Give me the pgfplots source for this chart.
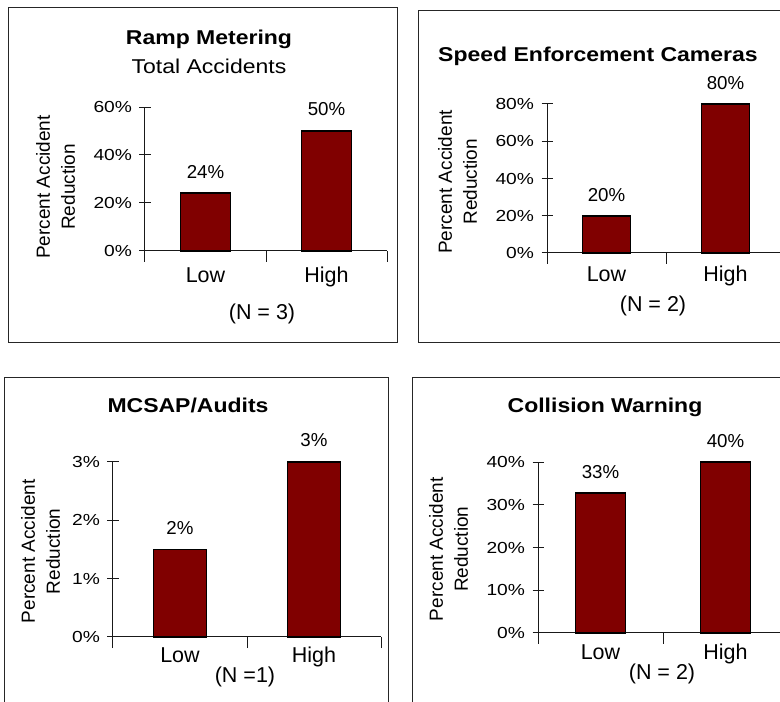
\documentclass[border=0pt]{standalone}
\usepackage{pgfplots}
\pgfplotsset{compat=1.18}
\usepackage{fontspec}
\setmainfont{Liberation Sans}
\newfontfamily\wf[FakeStretch=1.15]{Liberation Sans}
\newfontfamily\wtf[FakeStretch=1.2]{Liberation Sans}
\definecolor{barred}{RGB}{128,0,0}
\newcommand{\titlefont}{\wf\bfseries\fontsize{20}{24}\selectfont}
\newcommand{\subfont}{\wf\fontsize{20}{24}\selectfont}
\newcommand{\tickfont}{\wtf\fontsize{16}{19}\selectfont}
\newcommand{\catfont}{\fontsize{21.5}{24}\selectfont}
\newcommand{\valfont}{\fontsize{18.7}{22}\selectfont}
\newcommand{\labfont}{\fontsize{19}{25}\selectfont}

\pgfplotsset{
  panel/.style={
    scale only axis, axis lines*=left, clip=false, enlargelimits=false,
    anchor=south west,
    ymin=0, xmin=-0.5, xmax=1.5,
    xtick={-0.5,0.5,1.5}, xticklabels={,,},
    extra x ticks={0,1}, extra x tick labels={Low,High},
    extra x tick style={major tick length=0pt},
    tick align=center, major tick length=11pt,
    axis line style={line width=1pt, black!90},
    every tick/.style={line width=1pt, black!90},
    xticklabel style={font=\catfont, anchor=base},
    yticklabel style={font=\tickfont, anchor=east, xshift=-4pt},
    ylabel style={font=\labfont, align=center, anchor=center},
    ylabel={Percent Accident\\Reduction},
    ybar,
    nodes near coords, point meta=explicit symbolic,
    every node near coord/.append style={font=\valfont, anchor=base, yshift=15pt},
  },
  barstyle/.style={fill=barred, draw=black, line width=1.8pt},
}

\begin{document}
\begin{tikzpicture}[x=1pt, y=1pt]
\useasboundingbox (0,0) rectangle (780,702);
\clip (0,0) rectangle (780,702);

% panel frames
\draw[line width=1pt, black!85] (8,359) rectangle (397,694);
\draw[line width=1pt, black!85] (418,359) rectangle (800,691);
\draw[line width=1pt, black!85] (4,-10) rectangle (388,324);
\draw[line width=1pt, black!85] (412,-10) rectangle (800,324);

% titles
\node[anchor=base, font=\titlefont] at (209,657) {Ramp Metering};
\node[anchor=base, font=\subfont] at (209,628) {Total Accidents};
\node[anchor=base, font=\titlefont] at (598,640.3) {Speed Enforcement Cameras};
\node[anchor=base, font=\titlefont] at (188,289) {MCSAP/Audits};
\node[anchor=base, font=\titlefont] at (605,289) {Collision Warning};

% N labels
\node[anchor=base, font=\catfont] at (262,382) {(N = 3)};
\node[anchor=base, font=\catfont] at (653,390) {(N = 2)};
\node[anchor=base, font=\catfont] at (245,19.5) {(N =1)};
\node[anchor=base, font=\catfont] at (662,22.5) {(N = 2)};

% Panel 1: Ramp Metering
\begin{axis}[panel, at={(145pt,451pt)}, width=242pt, height=144pt,
  ymax=60, ytick={0,20,40,60}, yticklabels={0\%,20\%,40\%,60\%},
  bar width=50pt,
  ylabel style={at={(axis description cs:-0.37,0.444)}},
  xticklabel style={yshift=-31.7pt}]
\addplot[barstyle] coordinates {(0,24) [24\%] (1,50) [50\%]};
\end{axis}

% Panel 2: Speed Enforcement Cameras
\begin{axis}[panel, at={(547pt,449pt)}, width=238pt, height=149pt,
  ymax=80, ytick={0,20,40,60,80}, yticklabels={0\%,20\%,40\%,60\%,80\%},
  bar width=48pt,
  ylabel style={at={(axis description cs:-0.376,0.477)}},
  xticklabel style={yshift=-29pt},
  every node near coord/.append style={yshift=-1pt}]
\addplot[barstyle] coordinates {(0,20) [20\%] (1,80) [80\%]};
\end{axis}

% Panel 3: MCSAP/Audits
\begin{axis}[panel, at={(113pt,65pt)}, width=268pt, height=175pt,
  ymax=3, ytick={0,1,2,3}, yticklabels={0\%,1\%,2\%,3\%},
  bar width=53pt,
  ylabel style={at={(axis description cs:-0.27,0.49)}},
  xticklabel style={yshift=-25.5pt}]
\addplot[barstyle] coordinates {(0,1.5) [2\%] (1,3) [3\%]};
\end{axis}

% Panel 4: Collision Warning
\begin{axis}[panel, at={(538pt,69pt)}, width=250pt, height=171pt,
  ymax=40, ytick={0,10,20,30,40}, yticklabels={0\%,10\%,20\%,30\%,40\%},
  bar width=50pt,
  ylabel style={at={(axis description cs:-0.358,0.49)}},
  xticklabel style={yshift=-26.5pt}]
\addplot[barstyle] coordinates {(0,32.7) [33\%] (1,40) [40\%]};
\end{axis}
\end{tikzpicture}
\end{document}
